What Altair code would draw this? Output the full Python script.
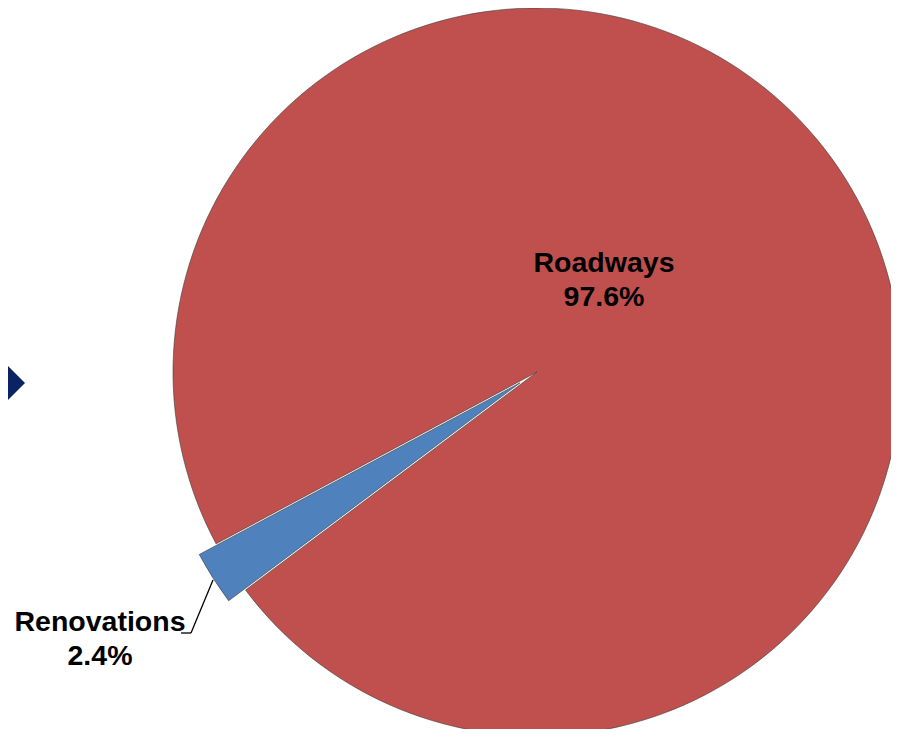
import math
import altair as alt
import pandas as pd

# ---- data ----
categories = ["Renovations", "Roadways"]
shares = [2.4, 97.6]
colors = ["#4F81BD", "#C0504D"]
orders = [0, 1]

df = pd.DataFrame({"category": categories, "share": shares, "order": orders})
df["label"] = df["category"] + "\n" + df["share"].map(lambda v: f"{v:.1f}%")

# ---- layout ----
W, H = 883, 721
CX, CY = 529, 364          # pie centre in plot coordinates
R = 364                    # pie radius
START = math.radians(233.2)
EXPLODE = 20
mid = START + math.radians(2.4 * 3.6 / 2)
DX, DY = EXPLODE * math.sin(mid), -EXPLODE * math.cos(mid)

base = alt.Chart(df).transform_stack(
    stack="share", groupby=[], as_=["s0", "s1"], sort=[alt.SortField("order")]
)

theta = alt.Theta("s0:Q", scale=alt.Scale(domain=[0, 100], range=[START, START + 2 * math.pi]))
theta2 = alt.Theta2("s1:Q")
color = alt.Color("category:N", scale=alt.Scale(domain=categories, range=colors), legend=None)

road = base.transform_filter(alt.datum.category == "Roadways").mark_arc(
    radius=R, stroke="#3a3a3a", strokeWidth=0.6
).encode(theta=theta, theta2=theta2, color=color, x=alt.value(CX), y=alt.value(CY))

reno = base.transform_filter(alt.datum.category == "Renovations").mark_arc(
    radius=R, stroke="#3a3a3a", strokeWidth=0.6, xOffset=DX, yOffset=DY
).encode(theta=theta, theta2=theta2, color=color, x=alt.value(CX), y=alt.value(CY))

text_props = dict(font="Liberation Sans", fontSize=28.5, fontWeight="bold", color="#000000",
                  align="center", baseline="alphabetic", lineBreak="\n", lineHeight=34)

road_lbl = alt.Chart(df).transform_filter(alt.datum.category == "Roadways").mark_text(
    **text_props).encode(text="label:N", x=alt.value(596), y=alt.value(264))
reno_lbl = alt.Chart(df).transform_filter(alt.datum.category == "Renovations").mark_text(
    **text_props).encode(text="label:N", x=alt.value(92), y=alt.value(623))

lead1 = alt.Chart(df).transform_filter(alt.datum.category == "Renovations").mark_rule(
    color="#000000", strokeWidth=1.3).encode(
    x=alt.value(173), x2=alt.value(183), y=alt.value(625), y2=alt.value(625))
lead2 = alt.Chart(df).transform_filter(alt.datum.category == "Renovations").mark_rule(
    color="#000000", strokeWidth=1.3).encode(
    x=alt.value(183), x2=alt.value(205), y=alt.value(625), y2=alt.value(572))

diamond = alt.Chart(df).transform_filter(alt.datum.category == "Roadways").mark_point(
    shape="diamond", filled=True, size=4900, color="#0B2265", opacity=1, strokeWidth=0
).encode(x=alt.value(-18), y=alt.value(375))

chart = alt.layer(road, reno, diamond, lead1, lead2, road_lbl, reno_lbl).properties(
    width=W, height=H, padding=0, autosize="none", background="#ffffff"
).configure(view=alt.ViewConfig(stroke=None))

chart.save("out.html", embed_options={"renderer": "svg", "actions": False})
